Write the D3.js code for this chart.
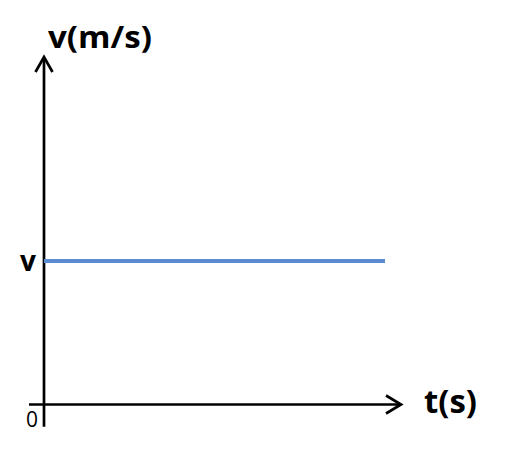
<!DOCTYPE html>
<html><head><meta charset="utf-8">
<script src="https://cdn.jsdelivr.net/npm/d3@7"></script>
<style>html,body{margin:0;padding:0;background:#fff;}svg{display:block;}</style>
</head><body>
<svg id="c" width="517" height="450"></svg>
<script>
const tValues = [0, 10];
const vValues = [1, 1];
const yTickLabels = ["v"];
const yTickValues = [1];
const originLabel = ["0"];
const xAxisLabel = "t(s)";
const yAxisLabel = "v(m/s)";

const svg = d3.select("#c");
const x = d3.scaleLinear().domain([0, 10]).range([44, 385]);
const y = d3.scaleLinear().domain([0, 2.42]).range([404.5, 57]);

// axes
svg.append("line").attr("x1", x(-0.44)).attr("x2", x(10.45)).attr("y1", y(0)).attr("y2", y(0))
  .attr("stroke", "#000").attr("stroke-width", 2.7);
svg.append("line").attr("x1", x(0)).attr("x2", x(0)).attr("y1", y(-0.155)).attr("y2", y(2.415))
  .attr("stroke", "#000").attr("stroke-width", 2.7);
// arrowheads
const ax = x(10.47), ay = y(0);
svg.append("path").attr("d", `M${ax-15},${ay-9} L${ax},${ay} L${ax-15},${ay+9}`)
  .attr("fill", "none").attr("stroke", "#000").attr("stroke-width", 2.7);
const bx = x(0), by = y(2.42);
svg.append("path").attr("d", `M${bx-8.5},${by+15} L${bx},${by} L${bx+8.5},${by+15}`)
  .attr("fill", "none").attr("stroke", "#000").attr("stroke-width", 2.7);

// data line
const line = d3.line().x((d, i) => x(tValues[i])).y(d => y(d));
svg.append("path").datum(vValues).attr("d", line)
  .attr("fill", "none").attr("stroke", "#5b8bd0").attr("stroke-width", 4);

// labels
const font = "'Open Sans', 'DejaVu Sans', sans-serif";
svg.selectAll(".ylab").data(yTickLabels).enter().append("text")
  .attr("x", 28).attr("y", (d, i) => y(yTickValues[i]) + 10)
  .attr("text-anchor", "middle").attr("font-family", font).attr("font-weight", "bold")
  .attr("font-size", 28).text(d => d);
svg.selectAll(".olab").data(originLabel).enter().append("text")
  .attr("x", 32).attr("y", 427).attr("text-anchor", "middle")
  .attr("font-family", font).attr("font-size", 21).text(d => d);
svg.append("text").attr("x", 48).attr("y", 48).attr("font-family", font).attr("font-weight", "bold")
  .attr("font-size", 31).attr("textLength", 104).attr("lengthAdjust", "spacingAndGlyphs").text(yAxisLabel);
svg.append("text").attr("x", 424).attr("y", 413).attr("font-family", font).attr("font-weight", "bold")
  .attr("font-size", 32).attr("textLength", 53).attr("lengthAdjust", "spacingAndGlyphs").text(xAxisLabel);
</script>
</body></html>
